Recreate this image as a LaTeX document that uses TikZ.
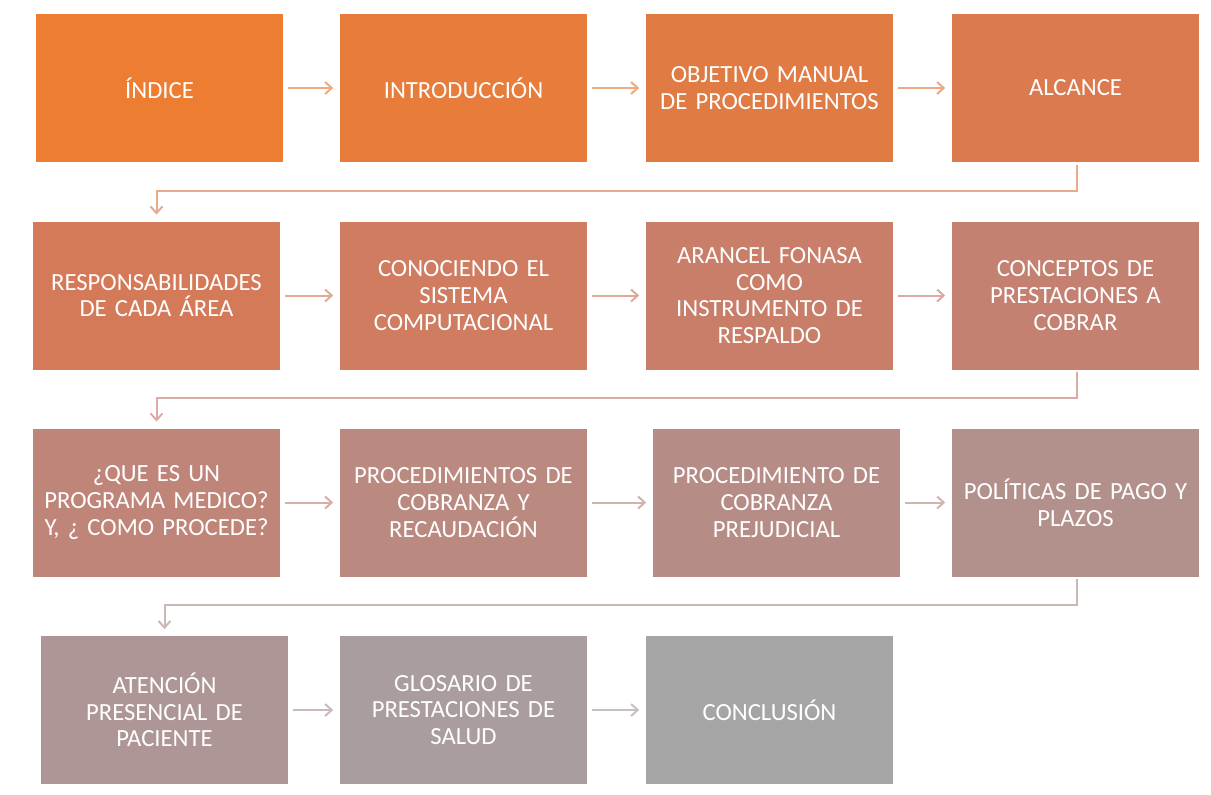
\documentclass[tikz,border=0pt]{standalone}
\usepackage{fontspec}
\setmainfont{Carlito}
\usepackage{xcolor}
\usetikzlibrary{arrows.meta}

\definecolor{c0}{RGB}{237,125,49}
\definecolor{c1}{RGB}{231,124,59}
\definecolor{c2}{RGB}{225,123,68}
\definecolor{c3}{RGB}{219,122,78}
\definecolor{c4}{RGB}{213,122,88}
\definecolor{c5}{RGB}{207,124,97}
\definecolor{c6}{RGB}{201,126,106}
\definecolor{c7}{RGB}{196,129,113}
\definecolor{c8}{RGB}{191,133,121}
\definecolor{c9}{RGB}{186,137,128}
\definecolor{c10}{RGB}{182,141,134}
\definecolor{c11}{RGB}{178,145,140}
\definecolor{c12}{RGB}{174,150,150}
\definecolor{c13}{RGB}{170,157,157}
\definecolor{c14}{RGB}{165,165,165}

\begin{document}
\begin{tikzpicture}[
x=0.75pt, y=-0.75pt,
box/.style={rectangle, fill=#1, text=white, minimum width=185pt, minimum height=111pt,
  inner sep=0pt, text width=175pt, align=center, font=\fontsize{18.5}{20}\selectfont},
arrow/.style={-{Straight Barb[length=5pt,width=9pt]}, line width=1.5pt, draw=#1!65!white,
  shorten <=4pt, shorten >=5pt}
]
\useasboundingbox (0,0) rectangle (1211,794);

% row 1
\node[box=c0] (indice) at (159.5,88) {ÍNDICE};
\node[box=c1] (intro) at (463.5,88) {INTRODUCCIÓN};
\node[box=c2] (objetivo) at (769.5,88) {OBJETIVO MANUAL\\DE PROCEDIMIENTOS};
\node[box=c3] (alcance) at (1075.5,88) {ALCANCE};

% row 2
\node[box=c4] (resp) at (156.5,295.5) {RESPONSABILIDADES\\DE CADA ÁREA};
\node[box=c5] (sistema) at (463.5,295.5) {CONOCIENDO EL\\SISTEMA\\COMPUTACIONAL};
\node[box=c6] (arancel) at (769.5,295.5) {ARANCEL FONASA\\COMO\\INSTRUMENTO DE\\RESPALDO};
\node[box=c7] (conceptos) at (1075.5,295.5) {CONCEPTOS DE\\PRESTACIONES A\\COBRAR};

% row 3
\node[box=c8] (programa) at (156.5,502.5) {¿QUE ES UN\\PROGRAMA MEDICO?\\Y, ¿ COMO PROCEDE?};
\node[box=c9] (cobranza) at (463.5,502.5) {PROCEDIMIENTOS DE\\COBRANZA Y\\RECAUDACIÓN};
\node[box=c10] (prejud) at (776.5,502.5) {PROCEDIMIENTO DE\\COBRANZA\\PREJUDICIAL};
\node[box=c11] (politicas) at (1075.5,502.5) {POLÍTICAS DE PAGO Y\\PLAZOS\\[20pt]};

% row 4
\node[box=c12] (atencion) at (164.5,710) {ATENCIÓN\\PRESENCIAL DE\\PACIENTE};
\node[box=c13] (glosario) at (463.5,710) {GLOSARIO DE\\PRESTACIONES DE\\SALUD\\[8pt]};
\node[box=c14] (conclusion) at (769.5,710) {CONCLUSIÓN};

\coordinate (t1) at (1076.5,191);
\coordinate (t2) at (1076.5,398);
\coordinate (t3) at (1076.5,605);

\draw[arrow=c0] (indice) -- (intro);
\draw[arrow=c1] (intro) -- (objetivo);
\draw[arrow=c2] (objetivo) -- (alcance);
\draw[arrow=c3, shorten <=2pt] (alcance.south -| t1) -- (t1) -| (resp.north);

\draw[arrow=c4] (resp) -- (sistema);
\draw[arrow=c5] (sistema) -- (arancel);
\draw[arrow=c6] (arancel) -- (conceptos);
\draw[arrow=c7, shorten <=2pt] (conceptos.south -| t2) -- (t2) -| (programa.north);

\draw[arrow=c8] (programa) -- (cobranza);
\draw[arrow=c9] (cobranza) -- (prejud);
\draw[arrow=c10] (prejud) -- (politicas);
\draw[arrow=c11, shorten <=2pt] (politicas.south -| t3) -- (t3) -| (atencion.north);

\draw[arrow=c12] (atencion) -- (glosario);
\draw[arrow=c13] (glosario) -- (conclusion);

\end{tikzpicture}
\end{document}
